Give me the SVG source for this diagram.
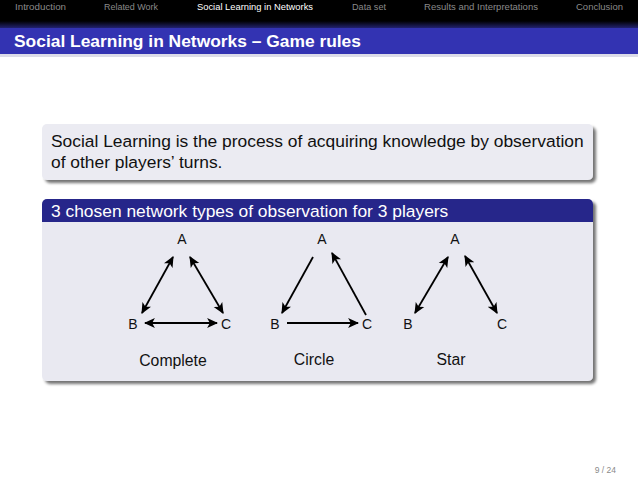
<svg xmlns="http://www.w3.org/2000/svg" width="638" height="479" viewBox="0 0 638 479">
<defs>
<linearGradient id="hdr" x1="0" y1="0" x2="0" y2="1">
<stop offset="0" stop-color="#000"/>
<stop offset="0.75" stop-color="#000"/>
<stop offset="1" stop-color="#22226e"/>
</linearGradient>
<filter id="sh" x="-5%" y="-10%" width="110%" height="130%">
<feGaussianBlur in="SourceAlpha" stdDeviation="1.5"/>
<feOffset dx="3" dy="3"/>
<feComponentTransfer><feFuncA type="linear" slope="0.55"/></feComponentTransfer>
<feMerge><feMergeNode/><feMergeNode in="SourceGraphic"/></feMerge>
</filter>
<marker id="ah" viewBox="0 0 10 10" refX="9" refY="5" markerWidth="11" markerHeight="11" markerUnits="userSpaceOnUse" orient="auto-start-reverse">
<path d="M0,0.5 L10,5 L0,9.5 L2.5,5 Z" fill="#000"/>
</marker>
<style>
.nav{font-family:"Liberation Sans",Arial,sans-serif;font-size:9.3px;fill:#8a8a8a}
.navc{font-family:"Liberation Sans",Arial,sans-serif;font-size:9.3px;fill:#fff}
.t{font-family:"Liberation Sans",Arial,sans-serif;fill:#111}
.n{font-family:"Liberation Sans",Arial,sans-serif;font-size:14px;fill:#111;text-anchor:middle}
.e{stroke:#000;stroke-width:1.8;fill:none}
.one{marker-end:url(#ah)}
.two{marker-start:url(#ah);marker-end:url(#ah)}
</style>
</defs>
<rect width="638" height="479" fill="#fff"/>
<g id="header">
<rect x="0" y="0" width="638" height="28" fill="url(#hdr)"/>
<text class="nav" x="15" y="10" textLength="51" lengthAdjust="spacingAndGlyphs">Introduction</text>
<text class="nav" x="104" y="10" textLength="54" lengthAdjust="spacingAndGlyphs">Related Work</text>
<text class="navc" x="197" y="10" textLength="116" lengthAdjust="spacingAndGlyphs">Social Learning in Networks</text>
<text class="nav" x="352" y="10" textLength="34" lengthAdjust="spacingAndGlyphs">Data set</text>
<text class="nav" x="424" y="10" textLength="114" lengthAdjust="spacingAndGlyphs">Results and Interpretations</text>
<text class="nav" x="576" y="10" textLength="47" lengthAdjust="spacingAndGlyphs">Conclusion</text>
<rect x="0" y="28" width="638" height="26" fill="#3333b2"/>
<rect x="0" y="54" width="638" height="3" fill="#dcdce8"/>
<text x="14" y="47" font-family="Liberation Sans, Arial, sans-serif" font-size="17.4" font-weight="bold" fill="#fff">Social Learning in Networks – Game rules</text>
</g>
<g id="box1">
<rect x="42" y="124" width="551" height="56" rx="5" fill="#ebebf2" filter="url(#sh)"/>
<text class="t" x="51" y="147" font-size="17.4">Social Learning is the process of acquiring knowledge by observation</text>
<text class="t" x="51" y="168" font-size="17.4">of other players’ turns.</text>
</g>
<g id="box2">
<g filter="url(#sh)">
<rect x="42" y="199" width="551" height="182" rx="5" fill="#e9e9f1"/>
<path d="M42,222 V204 a5,5 0 0 1 5,-5 H588 a5,5 0 0 1 5,5 V222 Z" fill="#28288a"/>
</g>
<text x="51" y="217" font-family="Liberation Sans, Arial, sans-serif" font-size="17.4" fill="#fff">3 chosen network types of observation for 3 players</text>
</g>
<g id="complete">
<text class="n" x="182" y="244">A</text>
<text class="n" x="133" y="329">B</text>
<text class="n" x="226" y="329">C</text>
<text class="t" x="173" y="366" font-size="15.8" text-anchor="middle">Complete</text>
</g>
<g id="circle">
<text class="n" x="322" y="244">A</text>
<text class="n" x="275" y="329">B</text>
<text class="n" x="367" y="329">C</text>
<text class="t" x="314" y="365" font-size="15.8" text-anchor="middle">Circle</text>
</g>
<g id="star">
<text class="n" x="455" y="244">A</text>
<text class="n" x="408" y="329">B</text>
<text class="n" x="502" y="329">C</text>
<text class="t" x="451" y="365" font-size="15.8" text-anchor="middle">Star</text>
</g>
<g id="connectors">
<line class="e two" x1="173" y1="257" x2="142" y2="313"/>
<line class="e two" x1="190" y1="257" x2="223" y2="313"/>
<line class="e two" x1="145" y1="323" x2="217" y2="323"/>
<line class="e one" x1="313" y1="257" x2="282" y2="313"/>
<line class="e one" x1="287" y1="323" x2="358" y2="323"/>
<line class="e one" x1="366" y1="315" x2="332" y2="253"/>
<line class="e two" x1="448" y1="257" x2="415" y2="313"/>
<line class="e two" x1="465" y1="256" x2="497" y2="313"/>
</g>
<text x="616" y="473" font-family="Liberation Sans, Arial, sans-serif" font-size="8.5" fill="#8a8a8a" text-anchor="end">9 / 24</text>
</svg>
